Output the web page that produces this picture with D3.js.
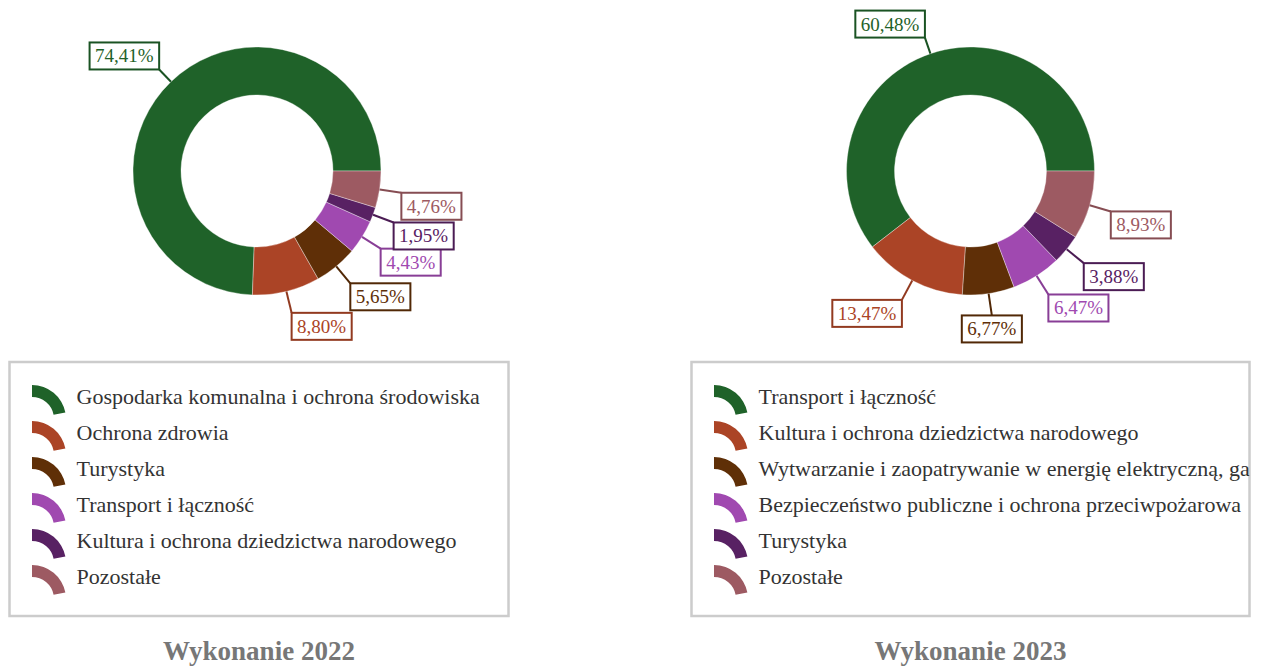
<!DOCTYPE html>
<html lang="pl">
<head>
<meta charset="utf-8">
<title>Wykonanie 2022 / 2023</title>
<script src="https://cdn.jsdelivr.net/npm/d3@7"></script>
<style>
  html, body { margin: 0; padding: 0; background: #fff; }
  svg { display: block; font-family: "Liberation Serif", "Times New Roman", serif; }
</style>
</head>
<body>
<svg id="chart" width="1261" height="666"></svg>
<script>
// Shares of spending by section, per year (percent)
const categories2022 = [
  "Gospodarka komunalna i ochrona środowiska",
  "Ochrona zdrowia",
  "Turystyka",
  "Transport i łączność",
  "Kultura i ochrona dziedzictwa narodowego",
  "Pozostałe"
];
const values2022 = [74.41, 8.80, 5.65, 4.43, 1.95, 4.76];

const categories2023 = [
  "Transport i łączność",
  "Kultura i ochrona dziedzictwa narodowego",
  "Wytwarzanie i zaopatrywanie w energię elektryczną, gaz, ciepło i wodę",
  "Bezpieczeństwo publiczne i ochrona przeciwpożarowa",
  "Turystyka",
  "Pozostałe"
];
const values2023 = [60.48, 13.47, 6.77, 6.47, 3.88, 8.93];

const sliceColors = ["#1f6229", "#ab4426", "#5f2f07", "#a049b0", "#582163", "#9d5a62"];
const titles = ["Wykonanie 2022", "Wykonanie 2023"];

// Panel layout
const panels = [
  { cats: categories2022, vals: values2022, title: titles[0], cx: 257, legendX: 9.5, legendW: 499 },
  { cats: categories2023, vals: values2023, title: titles[1], cx: 970.5, legendX: 691.5, legendW: 558 }
];
const cy = 171, outerR = 124, innerR = 76;
const leaderBelow = 22, leaderAbove = 17;
const legendY = 362, legendH = 254, rowGap = 36, firstBaseline = 404;

const svg = d3.select("#chart");
const plLocale = d3.formatLocale({ decimal: ",", thousands: " ", grouping: [3], currency: ["", " zł"] });
const pct = v => plLocale.format(".2f")(v) + "%";

// slices run counter-clockwise starting from 3 o'clock
const pie = d3.pie().sort(null)
  .startAngle(Math.PI / 2)
  .endAngle(Math.PI / 2 - 2 * Math.PI);
const arc = d3.arc().innerRadius(innerR).outerRadius(outerR);
const iconArc = d3.arc().innerRadius(22).outerRadius(34).startAngle(0).endAngle(1.38);

panels.forEach((p, pi) => {
  const g = svg.append("g").attr("transform", `translate(${p.cx},${cy})`);
  const arcs = pie(p.vals);

  // donut slices
  g.selectAll("path.slice").data(arcs).join("path")
    .attr("class", "slice")
    .attr("d", arc)
    .attr("fill", (d, i) => sliceColors[i])
    .attr("stroke", "#fff")
    .attr("stroke-opacity", 0.35)
    .attr("stroke-width", 1);

  // value labels with leader lines
  const labels = g.selectAll("g.lbl").data(arcs).join("g").attr("class", "lbl");
  labels.each(function (d, i) {
    const a = (d.startAngle + d.endAngle) / 2;
    const dx = Math.sin(a), dy = -Math.cos(a);
    const len = dy > 0 ? leaderBelow : leaderAbove;
    const sx = dx * outerR, sy = dy * outerR;
    const ex = dx * (outerR + len), ey = dy * (outerR + len);
    const col = sliceColors[i];
    const dark = d3.color(col).darker(0.45).formatHex();
    const sel = d3.select(this);

    sel.append("line")
      .attr("x1", sx).attr("y1", sy).attr("x2", ex).attr("y2", ey)
      .attr("stroke", dark).attr("stroke-width", 2);

    const rect = sel.append("rect");
    const txt = sel.append("text")
      .attr("font-size", 19)
      .attr("fill", col)
      .text(pct(d.data));
    const tw = txt.node().getComputedTextLength();
    const bw = tw + 11, bh = 27;
    let bx;
    if (dx > 0.2) bx = ex;
    else if (dx < -0.2) bx = ex - bw;
    else bx = ex - bw / 2;
    const by = dy > 0 ? ey : ey - bh;
    rect.attr("x", bx).attr("y", by).attr("width", bw).attr("height", bh)
      .attr("fill", "#fff").attr("stroke", dark).attr("stroke-width", 2);
    txt.attr("x", bx + bw / 2).attr("y", by + bh / 2 + 6.5).attr("text-anchor", "middle");
  });

  // legend (entries clipped to the frame)
  const clipId = "legend-clip-" + pi;
  svg.append("clipPath").attr("id", clipId)
    .append("rect").attr("x", p.legendX).attr("y", legendY)
    .attr("width", p.legendW).attr("height", legendH);
  svg.append("rect")
    .attr("x", p.legendX).attr("y", legendY)
    .attr("width", p.legendW).attr("height", legendH)
    .attr("fill", "#fff").attr("stroke", "#cccccc").attr("stroke-width", 2.5);
  const lg = svg.append("g").attr("clip-path", `url(#${clipId})`);
  const rows = lg.selectAll("g.row").data(p.cats).join("g")
    .attr("class", "row")
    .attr("transform", (d, i) => `translate(${p.legendX + 22.5},${firstBaseline + i * rowGap})`);
  rows.append("path")
    .attr("d", iconArc)
    .attr("transform", "translate(0,15)")
    .attr("fill", (d, i) => sliceColors[i]);
  rows.append("text")
    .attr("x", 44.5)
    .attr("y", 0)
    .attr("font-size", 22)
    .attr("fill", "#333")
    .text(d => d);

  // panel title
  svg.append("text")
    .attr("x", p.legendX + p.legendW / 2)
    .attr("y", 660)
    .attr("text-anchor", "middle")
    .attr("font-size", 27)
    .attr("font-weight", "bold")
    .attr("fill", "#777")
    .text(p.title);
});
</script>
</body>
</html>
